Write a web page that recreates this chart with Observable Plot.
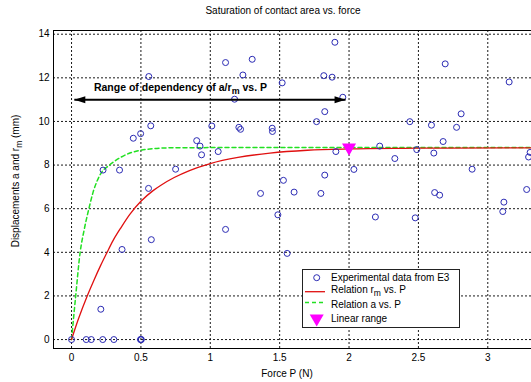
<!DOCTYPE html>
<html><head><meta charset="utf-8">
<script src="https://cdn.jsdelivr.net/npm/d3@7"></script>
<script src="https://cdn.jsdelivr.net/npm/@observablehq/plot@0.6"></script>
<style>
html,body{margin:0;padding:0;background:#fff;}
#chart{width:531px;height:382px;overflow:hidden;}
</style></head><body><div id="chart"></div>
<script>
// ---- texts ----
const titleText = "Saturation of contact area vs. force";
const xLabelText = "Force P (N)";
const yLabelParts = ["Displacements a and r", "m", " (mm)"];
const annotationParts = ["Range of dependency of a/r", "m", " vs. P"];
const legendLabels = [["Experimental data from E3"], ["Relation r", "m", " vs. P"], ["Relation a vs. P"], ["Linear range"]];

// ---- axes ----
const xTicks = [0, 0.5, 1, 1.5, 2, 2.5, 3];
const yTicks = [0, 2, 4, 6, 8, 10, 12, 14];
const xDomain = [-0.13, 3.315];
const yDomain = [-0.41, 14.17];

// ---- experimental data (force P, displacement) ----
const expP = [0, 0.106, 0.142, 0.225, 0.305, 0.497, 0.5, 0.503, 0.211, 0.364,
  0.575, 0.555, 0.227, 0.346, 0.75, 0.445, 0.498, 0.571, 0.557, 0.902,
  0.926, 0.937, 1.011, 1.11, 1.302, 1.235, 1.175, 1.518, 1.818, 1.878,
  1.898, 1.955, 1.825, 1.766, 1.206, 1.218, 1.446, 1.448, 1.057, 1.905,
  2.035, 1.527, 1.825, 1.362, 1.11, 1.487, 1.604, 1.797, 1.554, 2.19,
  2.477, 2.221, 2.33, 2.488, 2.611, 2.678, 2.594, 2.438, 2.775, 2.887,
  2.617, 2.653, 3.116, 3.108, 3.28, 3.305, 3.294, 2.693, 3.154, 2.808];
const expD = [0, 0, 0, 0, 0, 0, 0, 0, 1.39, 4.13,
  4.58, 6.93, 7.77, 7.77, 7.81, 9.23, 9.44, 9.8, 12.06, 9.12,
  8.87, 8.47, 9.79, 12.7, 12.85, 12.13, 11.02, 11.77, 12.1, 12.03,
  13.63, 11.11, 10.45, 9.99, 9.73, 9.64, 9.69, 9.54, 8.62, 8.62,
  7.8, 7.3, 7.54, 6.7, 5.05, 5.72, 6.76, 6.7, 3.95, 5.62,
  5.58, 8.87, 8.3, 8.71, 8.55, 9.08, 9.83, 9.99, 9.73, 7.81,
  6.74, 6.62, 6.3, 5.87, 6.88, 8.58, 8.37, 12.64, 11.81, 10.35];

// ---- relation r_m vs. P ----
const rmP = [0, 0.05, 0.113, 0.16, 0.21, 0.25, 0.3, 0.36, 0.42, 0.5, 0.59, 0.65, 0.74, 0.85, 1.0, 1.2, 1.43, 1.7, 2.0, 2.4, 2.7, 3.315];
const rmD = [0, 0.95, 2.0, 2.7, 3.4, 3.92, 4.55, 5.17, 5.74, 6.34, 6.84, 7.1, 7.43, 7.75, 8.07, 8.35, 8.55, 8.68, 8.74, 8.77, 8.78, 8.79];

// ---- relation a vs. P ----
const aP = [0, 0.03, 0.062, 0.09, 0.125, 0.155, 0.185, 0.22, 0.257, 0.3, 0.353, 0.42, 0.5, 0.6, 0.7, 1.0, 3.315];
const aD = [0, 2.0, 4.0, 5.0, 6.0, 6.75, 7.28, 7.7, 7.92, 8.13, 8.35, 8.55, 8.68, 8.76, 8.79, 8.8, 8.8];

// ---- linear range marker ----
const linearP = [2.0];
const linearD = [8.8];

// ---- range arrow & annotation ----
const rangeP = [0.02, 1.975];
const rangeD = 11;
const annotP = 0.165;
const annotD = 11.55;

const expData = expP.map((p, i) => ({p, d: expD[i]}));
const rmData = rmP.map((p, i) => ({p, d: rmD[i]}));
const aData = aP.map((p, i) => ({p, d: aD[i]}));
const linData = linearP.map((p, i) => ({p, d: linearD[i]}));
const arrowLine = [{x1: rangeP[0], x2: rangeP[1], y: rangeD}];
const arrowHeads = [{p: rangeP[0], d: rangeD, rot: 180}, {p: rangeP[1], d: rangeD, rot: 0}];

const headSymbol = {draw(ctx) { ctx.moveTo(0, 0); ctx.lineTo(-11, -3.5); ctx.lineTo(-11, 3.5); ctx.closePath(); }};

const blue = "#2b2bb4", red = "#e01010", green = "#22e022", magenta = "#ff00ff";
const gridStyle = {stroke: "#000", strokeOpacity: 0.9, strokeDasharray: "2,2"};

const chart = Plot.plot({
  width: 531, height: 382,
  marginTop: 30, marginBottom: 34, marginLeft: 53, marginRight: 0,
  style: {fontFamily: "'Liberation Sans', Arial, sans-serif", fontSize: "10px", color: "#000", background: "#fff"},
  x: {domain: xDomain, label: null},
  y: {domain: yDomain, label: null},
  marks: [
    Plot.gridX(xTicks, gridStyle),
    Plot.gridY(yTicks, gridStyle),
    Plot.axisX(xTicks, {tickSize: 0, tickPadding: 5, tickFormat: d => String(d), label: null}),
    Plot.axisY(yTicks, {tickSize: 0, tickPadding: 4, tickFormat: d => String(d), label: null}),
    Plot.line(aData, {x: "p", y: "d", stroke: green, strokeWidth: 1.5, strokeDasharray: "4,3", curve: "monotone-x"}),
    Plot.line(rmData, {x: "p", y: "d", stroke: red, strokeWidth: 1.3, curve: "monotone-x"}),
    Plot.dot(expData, {x: "p", y: "d", r: 3, stroke: blue, fill: "none", strokeWidth: 1}),
    Plot.dot(linData, {x: "p", y: "d", symbol: "triangle", rotate: 180, fill: magenta, stroke: "none", r: 5.2}),
    Plot.link(arrowLine, {x1: "x1", x2: "x2", y1: "y", y2: "y", stroke: "#000", strokeWidth: 2}),
    Plot.dot(arrowHeads, {x: "p", y: "d", symbol: headSymbol, rotate: "rot", fill: "#000", stroke: "none"}),
    Plot.frame({anchor: "left", stroke: "#000"}),
    Plot.frame({anchor: "bottom", stroke: "#000"}),
    Plot.frame({anchor: "top", stroke: "#000"})
  ]
});
document.getElementById("chart").appendChild(chart);

const svg = d3.select(chart);
const X = chart.scale("x"), Y = chart.scale("y");
const font = "'Liberation Sans', Arial, sans-serif";

function subText(sel, parts, size) {
  sel.append("tspan").text(parts[0]);
  if (parts.length > 1) {
    sel.append("tspan").attr("dy", size * 0.3).attr("font-size", size * 0.85).text(parts[1]);
    sel.append("tspan").attr("dy", -size * 0.3).text(parts[2]);
  }
}

// title
svg.append("text").attr("x", 283).attr("y", 13.5).attr("text-anchor", "middle")
  .attr("font-family", font).attr("font-size", 10).attr("fill", "#000").text(titleText);
// x label
svg.append("text").attr("x", 287).attr("y", 376.5).attr("text-anchor", "middle")
  .attr("font-family", font).attr("font-size", 10).attr("fill", "#000").text(xLabelText);
// y label
const yl = svg.append("text").attr("transform", "translate(19,181) rotate(-90)").attr("text-anchor", "middle")
  .attr("font-family", font).attr("font-size", 10).attr("fill", "#000");
subText(yl, yLabelParts, 10);
// annotation
const an = svg.append("text").attr("x", X.apply(annotP)).attr("y", Y.apply(annotD) + 4).attr("text-anchor", "start")
  .attr("font-family", font).attr("font-size", 10.5).attr("font-weight", "bold").attr("fill", "#000");
subText(an, annotationParts, 10.5);

// legend
const lg = svg.append("g").attr("font-family", font).attr("font-size", 10).attr("fill", "#000").attr("text-anchor", "start");
lg.append("rect").attr("x", 302.5).attr("y", 269.5).attr("width", 157).attr("height", 58)
  .attr("fill", "#fff").attr("stroke", "#222").attr("stroke-width", 1);
const rowsY = [277.7, 289.5, 304.5, 318.5];
lg.append("circle").attr("cx", 316.7).attr("cy", rowsY[0]).attr("r", 3).attr("fill", "none").attr("stroke", blue);
lg.append("line").attr("x1", 305).attr("x2", 325).attr("y1", 291.7).attr("y2", 291.7).attr("stroke", red).attr("stroke-width", 1.3);
lg.append("line").attr("x1", 305).attr("x2", 325).attr("y1", 302.5).attr("y2", 302.5).attr("stroke", green).attr("stroke-width", 1.5).attr("stroke-dasharray", "4,3");
lg.append("path").attr("d", d3.symbol(d3.symbolTriangle, Math.PI * 5.2 * 5.2)()).attr("transform", `translate(316.7,318.5) rotate(180)`).attr("fill", magenta);
legendLabels.forEach((parts, i) => {
  const t = lg.append("text").attr("x", 331).attr("y", rowsY[i] + 3.5).attr("text-anchor", "start");
  subText(t, parts, 10);
});
</script>
</body></html>
